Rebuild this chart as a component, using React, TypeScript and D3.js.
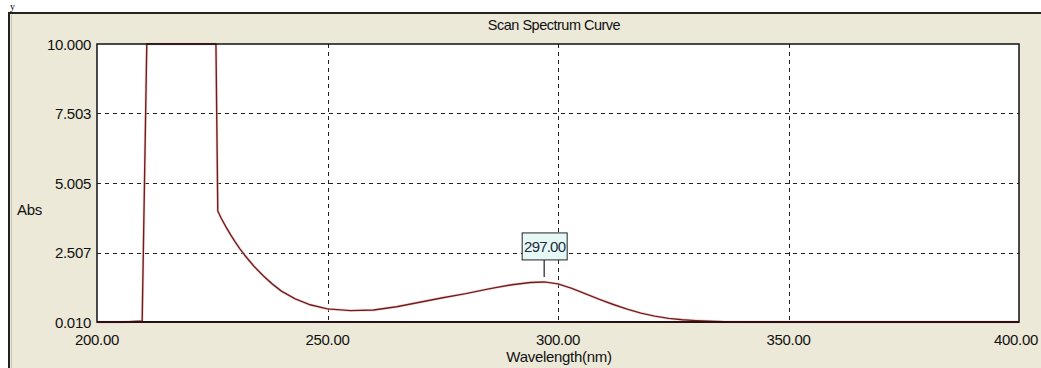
import React from "react";
import * as d3 from "d3";

const wavelengths = [200, 205, 209.8, 210.8, 212, 220, 225.8, 226.2, 227, 228, 229, 230, 231, 232, 234, 236, 238, 240, 243, 246, 250, 255, 260, 265, 270, 275, 280, 285, 290, 294, 297, 300, 303, 306, 309, 312, 315, 318, 321, 324, 327, 330, 333, 336, 340, 350, 360, 380, 400];
const absorbance = [0.0, 0.0, 0.05, 10, 10, 10, 10, 4.0, 3.72, 3.42, 3.14, 2.88, 2.64, 2.42, 2.02, 1.68, 1.38, 1.12, 0.84, 0.64, 0.48, 0.42, 0.44, 0.56, 0.72, 0.88, 1.03, 1.2, 1.35, 1.43, 1.45, 1.38, 1.22, 1.02, 0.82, 0.64, 0.47, 0.33, 0.22, 0.14, 0.09, 0.06, 0.04, 0.02, 0.01, 0.01, 0.01, 0.01, 0.01];
const yTicks = [0.01, 2.507, 5.005, 7.503, 10.0];
const xTicks = [200, 250, 300, 350, 400];
const peakWavelength = 297.0;
const peakAbs = 1.45;
const title = "Scan Spectrum Curve";

const FONT = "'Liberation Sans', Arial, sans-serif";
const FS = 15;
const LS = -0.3;

export default function App() {
  const left = 97, right = 1019, top = 44, bottom = 322;
  const x = d3.scaleLinear().domain([200, 400]).range([left, right]);
  const y = d3.scaleLinear().domain([0.01, 10.0]).range([bottom, top]);
  const pts: [number, number][] = wavelengths.map((w, i) => [w, absorbance[i]]);
  const line = d3.line<[number, number]>().x(d => x(d[0])).y(d => y(d[1]));
  const px = x(peakWavelength);
  const py = y(peakAbs);
  const boxW = 45, boxH = 27;
  const boxBottom = py - 22;

  return (
    <svg width={1041} height={368} style={{ position: "fixed", left: 0, top: 0, background: "#fff" }}>
      <rect x={0} y={0} width={1041} height={368} fill="#ffffff" />
      {/* outer window panel */}
      <rect x={9} y={13} width={1040} height={360} fill="#ece9d8" />
      <line x1={8} y1={13} x2={1041} y2={13} stroke="#222" strokeWidth={2} />
      <line x1={9} y1={13} x2={9} y2={368} stroke="#222" strokeWidth={2} />
      <line x1={11.5} y1={15} x2={11.5} y2={368} stroke="#c8c4b4" strokeWidth={1} />
      <text x={10} y={10} fontFamily="'Liberation Serif', serif" fontSize={10} fill="#000">y</text>

      {/* title */}
      <text x={(left + right) / 2 - 4} y={30} textAnchor="middle" fontFamily={FONT} fontSize={14.5} letterSpacing={-0.5} fill="#111">{title}</text>

      {/* plot area */}
      <rect x={left} y={top} width={right - left} height={bottom - top} fill="#ffffff" />

      {/* grid */}
      {yTicks.filter(t => t > 0.01 && t < 10).map(t => (
        <line key={"gy" + t} x1={left} x2={right} y1={Math.round(y(t)) + 0.5} y2={Math.round(y(t)) + 0.5} stroke="#222" strokeWidth={1} strokeDasharray="4,4" />
      ))}
      {xTicks.filter(t => t > 200 && t < 400).map(t => (
        <line key={"gx" + t} x1={Math.round(x(t)) + 0.5} x2={Math.round(x(t)) + 0.5} y1={top} y2={bottom} stroke="#222" strokeWidth={1} strokeDasharray="4,4" />
      ))}

      {/* curve */}
      <path d={line(pts) || ""} fill="none" stroke="#f4c8c8" strokeWidth={3} strokeLinejoin="round" opacity={0.6} />
      <path d={line(pts) || ""} fill="none" stroke="#6e1c1c" strokeWidth={1.4} strokeLinejoin="round" />

      {/* plot frame */}
      <rect x={left} y={top} width={right - left} height={bottom - top} fill="none" stroke="#111" strokeWidth={1.5} />
      <line x1={left} x2={right} y1={bottom} y2={bottom} stroke="#2a1010" strokeWidth={2} />

      {/* y tick labels */}
      {yTicks.map(t => (
        <text key={"ty" + t} x={91} y={y(t) + 5.5} textAnchor="end" fontFamily={FONT} fontSize={FS} letterSpacing={LS} fill="#111">{t.toFixed(3)}</text>
      ))}
      {/* x tick labels */}
      {xTicks.map(t => (
        <text key={"tx" + t} x={t === 400 ? x(t) - 3 : x(t)} y={345} textAnchor="middle" fontFamily={FONT} fontSize={FS} letterSpacing={LS} fill="#111">{t.toFixed(2)}</text>
      ))}
      <text x={(left + right) / 2 + 1} y={362} textAnchor="middle" fontFamily={FONT} fontSize={FS} letterSpacing={LS} fill="#111">Wavelength(nm)</text>
      <text x={17} y={215} fontFamily={FONT} fontSize={FS} letterSpacing={LS} fill="#111">Abs</text>

      {/* peak annotation */}
      <line x1={px} x2={px} y1={py - 5} y2={boxBottom} stroke="#222" strokeWidth={1.2} />
      <rect x={px - 22} y={boxBottom - boxH} width={boxW} height={boxH} fill="#e6f8f6" stroke="#222" strokeWidth={1} />
      <text x={px + 0.5} y={boxBottom - 8} textAnchor="middle" fontFamily={FONT} fontSize={FS} letterSpacing={-0.8} fill="#1c2c3c">{peakWavelength.toFixed(2)}</text>
    </svg>
  );
}
